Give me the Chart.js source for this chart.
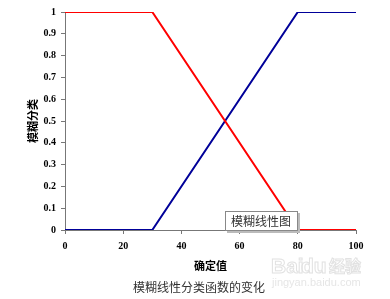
<!DOCTYPE html>
<html>
<head>
<meta charset="utf-8">
<script src="https://cdn.jsdelivr.net/npm/chart.js@4/dist/chart.umd.min.js"></script>
<style>
    html, body {margin: 0; padding: 0; background: #fff;}
    #wrap {position: relative; width: 390px; height: 299px;}
</style>
</head>
<body>
<div id="wrap"><canvas id="chart" width="390" height="299"></canvas></div>
<script>
// data
const xValues = [0, 30, 80, 100];
const redValues = [1, 1, 0, 0];
const blueValues = [0, 0, 1, 1];

const xTitle = '确定值';
const yTitle = '模糊分类';
const boxLabel = '模糊线性图';
const caption = '模糊线性分类函数的变化';

const tickFont = {family: '"Liberation Serif", serif', size: 10, weight: 'bold'};
const cjk = '"Noto Sans CJK SC", sans-serif';

// label box, caption and watermark drawn over the chart
const extras = {
    id: 'extras',
    afterDraw(chart) {
        const ctx = chart.ctx;
        ctx.save();

        // faint watermark
        ctx.strokeStyle = '#e2e2e2';
        ctx.lineWidth = 1;
        ctx.font = 'bold 21px "Liberation Sans", sans-serif';
        ctx.strokeText('Bai', 271, 273);
        ctx.strokeText('du', 301, 273);
        ctx.font = 'bold 16px ' + cjk;
        ctx.strokeText('经验', 329, 272);
        ctx.font = '11px "Liberation Sans", sans-serif';
        ctx.fillStyle = '#e6e6e6';
        ctx.fillText('jingyan.baidu.com', 272, 286);

        // label box
        ctx.fillStyle = '#bbb';
        ctx.fillRect(227, 213, 73, 20);
        ctx.fillStyle = '#fff';
        ctx.fillRect(225, 211, 73, 20);
        ctx.strokeStyle = '#888';
        ctx.strokeRect(225.5, 211.5, 72, 19);
        ctx.fillStyle = '#333';
        ctx.font = '12px ' + cjk;
        ctx.textBaseline = 'middle';
        ctx.fillText(boxLabel, 231, 221);

        // caption
        ctx.textAlign = 'center';
        ctx.fillText(caption, 199, 287);
        ctx.restore();
    }
};

new Chart(document.getElementById('chart'), {
    type: 'line',
    data: {
        datasets: [
            {
                data: xValues.map((x, i) => ({x, y: redValues[i]})),
                borderColor: '#ff0000',
                borderWidth: 2,
                pointRadius: 0,
                fill: false
            },
            {
                data: xValues.map((x, i) => ({x, y: blueValues[i]})),
                borderColor: '#000099',
                borderWidth: 2,
                pointRadius: 0,
                fill: false
            }
        ]
    },
    options: {
        responsive: false,
        animation: false,
        layout: {padding: {top: 12, right: 34, left: 0, bottom: 0}},
        plugins: {legend: {display: false}, tooltip: {enabled: false}},
        scales: {
            x: {
                type: 'linear',
                min: 0,
                max: 100,
                ticks: {stepSize: 20, color: '#000', font: tickFont, padding: 6, maxRotation: 0},
                grid: {drawOnChartArea: false, tickLength: 4, color: '#777'},
                border: {color: '#777'},
                title: {
                    display: true,
                    text: xTitle,
                    color: '#000',
                    font: {family: cjk, size: 11, weight: 'bold'},
                    padding: {top: 0, bottom: 27}
                },
                afterFit(scale) {
                    scale.height = 69;
                }
            },
            y: {
                min: 0,
                max: 1,
                ticks: {
                    stepSize: 0.1,
                    color: '#000',
                    font: tickFont,
                    padding: 5,
                    callback: value => String(+value.toFixed(1))
                },
                grid: {drawOnChartArea: false, tickLength: 4, color: '#777'},
                border: {color: '#777'},
                title: {
                    display: true,
                    text: yTitle,
                    color: '#000',
                    font: {family: cjk, size: 11, weight: 'bold'},
                    padding: {top: 26, bottom: 0}
                },
                afterFit(scale) {
                    scale.width = 65;
                }
            }
        }
    },
    plugins: [extras]
});
</script>
</body>
</html>
